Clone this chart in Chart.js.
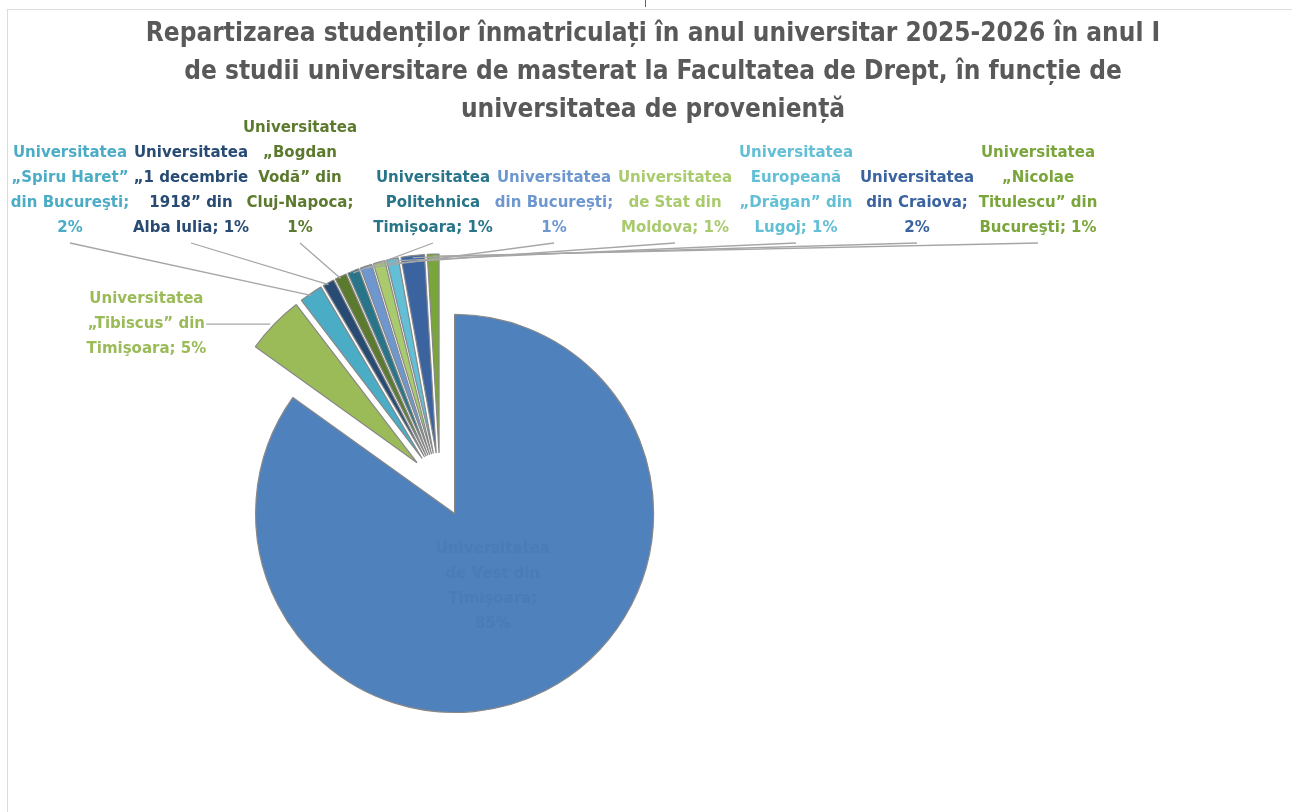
<!DOCTYPE html>
<html>
<head>
<meta charset="utf-8">
<title>Repartizarea studenților - master</title>
<script src="https://cdn.jsdelivr.net/npm/chart.js@4.4.1/dist/chart.umd.min.js"></script>
<style>
  html, body { margin: 0; padding: 0; background: #fff; overflow: hidden; }
  #tick { position: absolute; left: 645px; top: 0; width: 1px; height: 7px; background: #666; }
  #box { position: absolute; left: 7px; top: 9px; width: 1290px; height: 900px;
         border-left: 1px solid #dcdcdc; border-top: 1px solid #dcdcdc; }
</style>
</head>
<body>
<div id="tick"></div>
<div id="box"><canvas id="pieChart"></canvas></div>
<script>
// date (numar studenti, procentele rezulta din ele)
const universitati = [
  ["Universitatea", "de Vest din", "Timișoara;", "{p}"],
  ["Universitatea", "„Tibiscus” din", "Timişoara; {p}"],
  ["Universitatea", "„Spiru Haret”", "din Bucureşti;", "{p}"],
  ["Universitatea", "„1 decembrie", "1918” din", "Alba Iulia; {p}"],
  ["Universitatea", "„Bogdan", "Vodă” din", "Cluj-Napoca;", "{p}"],
  ["Universitatea", "Politehnica", "Timișoara; {p}"],
  ["Universitatea", "din București;", "{p}"],
  ["Universitatea", "de Stat din", "Moldova; {p}"],
  ["Universitatea", "Europeană", "„Drăgan” din", "Lugoj; {p}"],
  ["Universitatea", "din Craiova;", "{p}"],
  ["Universitatea", "„Nicolae", "Titulescu” din", "Bucureşti; {p}"]
];
const studenti = [90, 5, 2, 1, 1, 1, 1, 1, 1, 2, 1];
const culori = ['#4F81BD', '#9BBB59', '#4BACC6', '#284B74', '#5C7A2E', '#287489',
                '#6E97CF', '#A9CB6E', '#62BFD5', '#3A63A0', '#7AA53A'];
const titlu = [
  "Repartizarea studenților înmatriculați în anul universitar 2025-2026 în anul I",
  "de studii universitare de masterat la Facultatea de Drept, în funcție de",
  "universitatea de proveniență"
];

// aspect
const explode = 32;                          // px, toate feliile scoase la fel
const pieCenter = { x: 432, y: 475 };        // in canvas
const labelFont = "bold 15px 'DejaVu Sans', sans-serif";
const lineH = 25;

let total = studenti.reduce((a, b) => a + b, 0);
function pct(i) { return Math.round(studenti[i] / total * 100) + '%'; }
function lines(i) { return universitati[i].map(s => s.replace('{p}', pct(i))); }

function drawLines(ctx, arr, cx, bottomY, color) {
  ctx.fillStyle = color;
  ctx.textAlign = 'center';
  ctx.textBaseline = 'middle';
  for (let k = 0; k < arr.length; k++) {
    ctx.fillText(arr[k], cx, bottomY - (arr.length - 1 - k) * lineH);
  }
}

// felii explodate: desenam noi fiecare arc cu translatie
const explodePlugin = {
  id: 'explode',
  beforeDatasetDraw(chart, args) {
    const ctx = chart.ctx;
    args.meta.data.forEach((arc, i) => {
      let mid = (arc.startAngle + arc.endAngle) / 2;
      ctx.save();
      ctx.translate(pieCenter.x - arc.x, pieCenter.y - arc.y);
      ctx.translate(Math.cos(mid) * explode, Math.sin(mid) * explode);
      arc.draw(ctx);
      ctx.restore();
    });
    return false;
  },
  afterDatasetsDraw(chart) {
    const ctx = chart.ctx;
    const arcs = chart.getDatasetMeta(0).data;
    ctx.save();
    ctx.font = labelFont;
    arcs.forEach((arc, i) => {
      let mid = (arc.startAngle + arc.endAngle) / 2;
      let r = arc.outerRadius + explode;
      let ox = pieCenter.x + Math.cos(mid) * r;
      let oy = pieCenter.y + Math.sin(mid) * r;
      let txt = lines(i);
      if (i == 0) {
        // eticheta din felia mare (aproape invizibila)
        let rr = arc.outerRadius * 0.42 + explode;
        drawLines(ctx, txt, pieCenter.x + Math.cos(mid) * rr, pieCenter.y + Math.sin(mid) * rr + 36, '#4A7CB8');
        return;
      }
      let lx, bottom;
      ctx.strokeStyle = '#a6a6a6';
      ctx.lineWidth = 1.3;
      if (i == 1) {
        let w = Math.max(...txt.map(t => ctx.measureText(t).width));
        lx = ox - 68 - w / 2;
        bottom = oy + lineH;
        ctx.beginPath();
        ctx.moveTo(ox - 68, oy);
        ctx.lineTo(ox - 4, oy);
        ctx.stroke();
      } else {
        lx = 62 + (i - 2) * 121 - (i == 4 ? 12 : 0);
        bottom = 218;
        ctx.beginPath();
        ctx.moveTo(lx, bottom + 15);
        ctx.lineTo(ox, oy + 2);
        ctx.stroke();
      }
      drawLines(ctx, txt, lx, bottom, culori[i]);
    });
    ctx.restore();
  }
};

var ctx = document.getElementById('pieChart').getContext('2d');
var pie = new Chart(ctx, {
  type: 'pie',
  data: {
    labels: universitati.map(u => u.join(' ')),
    datasets: [{
      label: 'Studenți',
      data: studenti,
      backgroundColor: culori,
      borderColor: '#888888',
      borderWidth: 1.2
    }]
  },
  options: {
    responsive: true,
    maintainAspectRatio: false,
    animation: false,
    radius: 199,
    plugins: {
      legend: { display: false },
      tooltip: { enabled: false },
      title: {
        display: true,
        text: titlu,
        color: '#595959',
        font: { family: "'DejaVu Sans Condensed', 'DejaVu Sans', sans-serif", size: 26, weight: 'bold', lineHeight: 1.46 },
        padding: { top: 5, bottom: 10 }
      }
    }
  },
  plugins: [explodePlugin]
});
</script>
</body>
</html>
